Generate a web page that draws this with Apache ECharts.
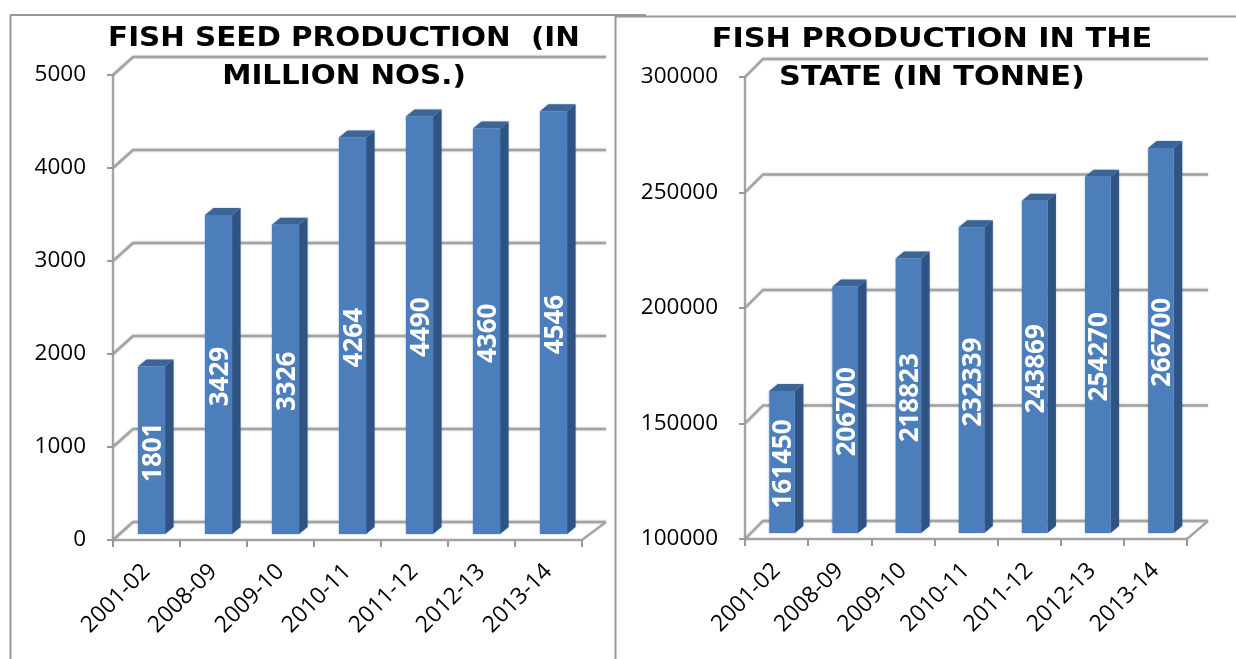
<!DOCTYPE html>
<html>
<head>
<meta charset="utf-8">
<style>html,body{margin:0;padding:0;background:#fff}#c{width:1236px;height:659px}</style>
<script src="https://cdn.jsdelivr.net/npm/echarts@6/dist/echarts.min.js"></script>
</head>
<body>
<div id="c"></div>
<script>
const categories = ['2001-02','2008-09','2009-10','2010-11','2011-12','2012-13','2013-14'];
const seedValues = [1801,3429,3326,4264,4490,4360,4546];
const fishValues = [161450,206700,218823,232339,243869,254270,266700];
const seedTicks = [0,1000,2000,3000,4000,5000];
const fishTicks = [100000,150000,200000,250000,300000];
const seedTitle = 'FISH SEED PRODUCTION  (IN\nMILLION NOS.)';
const fishTitle = 'FISH PRODUCTION IN THE\nSTATE (IN TONNE)';

const GRID = '#a3a3a3';
const FONT = '"Open Sans"';
const chart = echarts.init(document.getElementById('c'), null, {renderer:'canvas'});

function wallSeries(idx, ticks, dx, dy, dxR){
  return {
    type:'custom', xAxisIndex:idx, yAxisIndex:idx, z:1, silent:true, clip:false,
    data: ticks.map(t=>[0,t]),
    encode:{x:0,y:1},
    renderItem(params, api){
      const cs = params.coordSys;
      const p = api.coord([0, api.value(1)]);
      const left = cs.x, right = cs.x + cs.width;
      const children = [{
        type:'polyline',
        shape:{points:[[left,p[1]],[left+dx,p[1]+dy],[right+dxR,p[1]+dy]]},
        style:{stroke:GRID, lineWidth:2.4, fill:null, shadowBlur:2, shadowColor:'rgba(120,120,120,.5)'}
      }];
      if(params.dataIndex === 0){
        children.push({type:'line',shape:{x1:right,y1:p[1],x2:right+dxR,y2:p[1]+dy},
          style:{stroke:GRID,lineWidth:2.4}});
      }
      return {type:'group',children};
    }
  };
}

function barSeries(idx, values, ox, oy, dep, depY, font){
  return {
    type:'custom', xAxisIndex:idx, yAxisIndex:idx, z:5, silent:true, clip:false,
    data: values.map((v,i)=>[i,v]),
    encode:{x:0,y:1},
    renderItem(params, api){
      const v = api.value(1);
      const top = api.coord([api.value(0), v]);
      const bottomY = params.coordSys.y + params.coordSys.height + oy;
      const w = api.size([1,0])[0]*0.405;
      const x0 = top[0] + ox - w/2, x1 = x0 + w;
      const y0 = top[1] + oy;
      const soft = {shadowBlur:2, shadowColor:'rgba(70,110,170,.45)'};
      return {type:'group',children:[
        {type:'polygon',shape:{points:[[x1,y0],[x1+dep,y0-depY],[x1+dep,bottomY-depY],[x1,bottomY]]},
          style:Object.assign({fill:'#2f5483'},soft)},
        {type:'polygon',shape:{points:[[x0,y0],[x0+dep,y0-depY],[x1+dep,y0-depY],[x1,y0]]},
          style:Object.assign({fill:'#3c6596'},soft)},
        {type:'rect',shape:{x:x0,y:y0,width:w,height:bottomY-y0},
          style:Object.assign({fill:'#4d7ebc'},soft)},
        {type:'text',x:(x0+x1)/2+2,y:(y0+bottomY)/2+2,rotation:Math.PI/2,
          style:{text:String(v),x:0,y:0,align:'center',verticalAlign:'middle',
            fill:'#fff',font:font}}
      ]};
    }
  };
}

function titleText(text, cx, y, sx){
  return {type:'text',x:cx,y:y,scaleX:sx,
    style:{text:text,x:0,y:0,font:'bold 26px "DejaVu Sans"',lineHeight:38,
      fill:'#000',align:'center',verticalAlign:'top'},z:20};
}
function frame(x1,y1,x2,y2){
  return {type:'line',shape:{x1,y1,x2,y2},style:{stroke:'#999',lineWidth:2},z:0};
}

const xAxisBase = {
  type:'category', data:categories,
  axisLine:{lineStyle:{color:GRID,width:2.4}},
  axisTick:{show:true,length:7,lineStyle:{color:'#999',width:2}},
  axisLabel:{interval:0,rotate:45,color:'#000',fontFamily:FONT,fontSize:23,margin:28},
  splitLine:{show:false}
};
const yAxisBase = {
  type:'value',
  axisLine:{show:true,lineStyle:{color:GRID,width:2.4}},
  axisTick:{show:true,length:6,lineStyle:{color:'#999',width:2}},
  axisLabel:{color:'#000',fontFamily:FONT,fontSize:22.5,margin:27,padding:[2,0,0,0],formatter:v=>String(v)},
  splitLine:{show:false}
};

chart.setOption({
  animation:false,
  backgroundColor:'#fff',
  grid:[
    {left:113,top:75,width:469,height:465},
    {left:745,top:77,width:442,height:462}
  ],
  xAxis:[Object.assign({gridIndex:0},xAxisBase),Object.assign({gridIndex:1},xAxisBase)],
  yAxis:[
    Object.assign({gridIndex:0,min:0,max:5000,interval:1000},yAxisBase),
    Object.assign({gridIndex:1,min:100000,max:300000,interval:50000},yAxisBase)
  ],
  series:[
    wallSeries(0,seedTicks,20,-18,24),
    wallSeries(1,fishTicks,18,-18,21),
    barSeries(0,seedValues,5,-6,8.5,7,'bold 26px "Open Sans"'),
    barSeries(1,fishValues,5.5,-6,8.5,7,'bold 26px "Open Sans"')
  ],
  graphic:[
    frame(10.5,15,10.5,659),
    frame(10,15,646,15),
    frame(615.5,16,615.5,659),
    frame(615,16.5,1236,16.5),
    titleText(seedTitle,344,20,1.13),
    titleText(fishTitle,932,21,1.165)
  ]
});
</script>
</body>
</html>
